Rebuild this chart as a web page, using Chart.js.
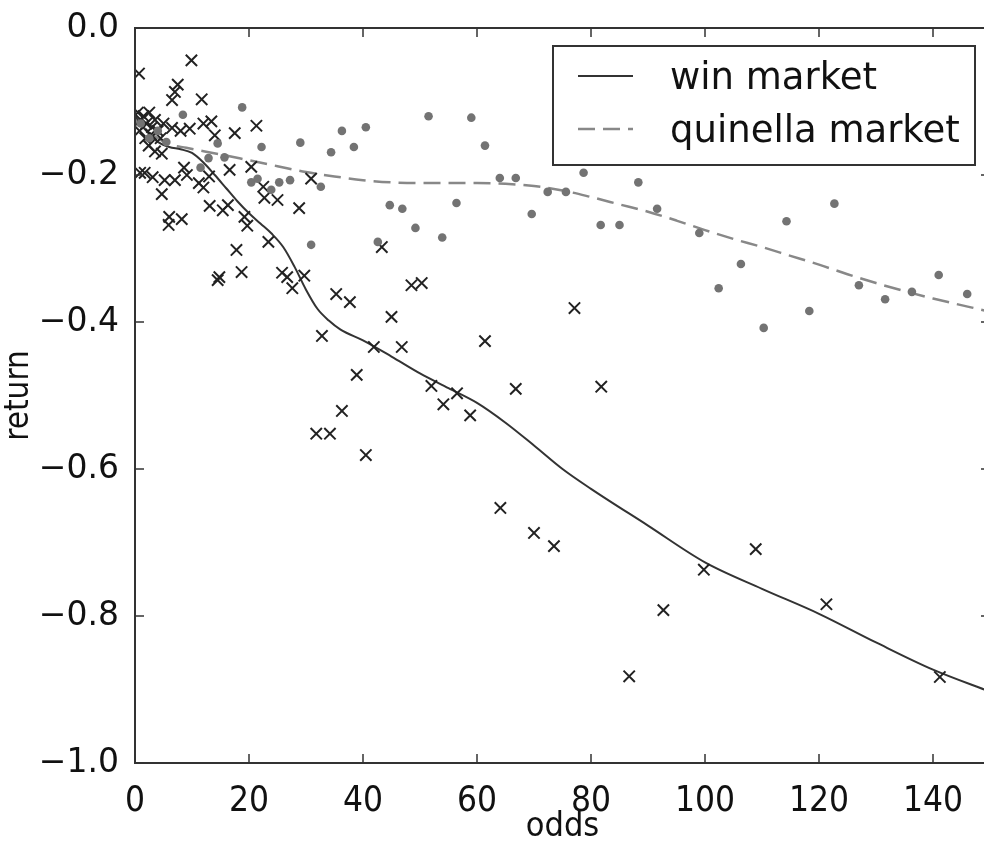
<!DOCTYPE html>
<html>
<head>
<meta charset="utf-8">
<script src="https://cdn.jsdelivr.net/npm/chart.js@4.4.1/dist/chart.umd.min.js"></script>
<style>
    html, body { margin: 0; padding: 0; background: #fff; overflow: hidden; }
    #wrap { width: 984px; height: 846px; overflow: hidden; }
</style>
</head>
<body>
<div id="wrap"><canvas id="chart" width="1000" height="846"></canvas></div>
<script>
// win market: individual observations (x markers)
const winOdds = [
    0.7, 9.9, 7.5, 7.0, 6.5, 11.7,
    0.5, 1.0, 1.5, 2.0, 2.5, 3.0, 3.5, 4.0, 0.8, 1.8, 2.8, 4.5, 5.0,
    6.5, 8.0, 9.6, 12.0, 13.4, 14.0, 17.5, 21.3,
    2.4, 3.5, 4.7, 1.7, 3.1, 5.2, 7.0, 8.6, 9.1, 11.2, 12.0, 13.0, 4.7, 16.6, 20.4, 22.5, 0.9,
    6.0, 5.9, 8.2, 13.1, 15.4, 16.3, 19.2, 19.7, 22.7, 25.0, 28.8, 30.9, 23.4, 17.8,
    18.7, 14.8, 14.5, 25.8, 26.7, 29.7, 27.6, 35.3, 37.7, 43.3, 48.5, 50.3, 45.0,
    32.8, 41.9, 46.8, 61.4, 38.9, 52.0, 56.5, 54.1, 58.8, 66.8, 36.3, 31.8, 34.2, 40.5,
    77.1, 81.8, 64.1, 70.0, 73.5, 86.7, 92.7, 99.8, 108.9, 121.3, 141.2
];
const winReturn = [
    -0.062, -0.044, -0.077, -0.087, -0.098, -0.097,
    -0.115, -0.125, -0.12, -0.13, -0.115, -0.135, -0.125, -0.14, -0.14, -0.15, -0.145, -0.15, -0.13,
    -0.136, -0.14, -0.137, -0.13, -0.127, -0.146, -0.143, -0.133,
    -0.16, -0.168, -0.171, -0.197, -0.203, -0.207, -0.207, -0.19, -0.2, -0.211, -0.217, -0.202, -0.226, -0.193, -0.189, -0.216, -0.197,
    -0.257, -0.268, -0.26, -0.242, -0.248, -0.241, -0.257, -0.269, -0.231, -0.234, -0.245, -0.205, -0.291, -0.302,
    -0.332, -0.339, -0.343, -0.333, -0.339, -0.337, -0.354, -0.362, -0.373, -0.298, -0.35, -0.347, -0.393,
    -0.419, -0.434, -0.434, -0.426, -0.472, -0.487, -0.497, -0.512, -0.527, -0.491, -0.521, -0.552, -0.552, -0.581,
    -0.381, -0.488, -0.653, -0.687, -0.705, -0.882, -0.792, -0.737, -0.709, -0.784, -0.883
];

// quinella market: individual observations (dots)
const quinOdds = [
    1.0, 2.5, 4.0, 5.5, 8.4, 18.8, 14.5, 12.9, 15.7, 11.5, 22.2, 29.0, 34.4, 36.3, 38.4, 40.5,
    20.4, 21.5, 25.3, 27.2, 23.9, 32.6, 30.9, 42.6, 44.7, 46.9, 49.2, 53.9, 56.4, 51.5, 59.0, 61.4,
    64.0, 66.8, 69.6, 72.4, 75.6, 78.7, 81.7, 85.0, 88.3, 91.6, 99.0, 102.4, 106.3, 110.3, 114.3,
    118.3, 122.7, 127.0, 131.6, 136.3, 141.0, 146.0
];
const quinReturn = [
    -0.13, -0.15, -0.14, -0.155, -0.118, -0.108, -0.157, -0.177, -0.176, -0.19, -0.162, -0.156, -0.169, -0.14, -0.162, -0.135,
    -0.21, -0.205, -0.21, -0.207, -0.22, -0.216, -0.295, -0.291, -0.241, -0.246, -0.272, -0.285, -0.238, -0.12, -0.122, -0.16,
    -0.204, -0.204, -0.253, -0.223, -0.223, -0.197, -0.268, -0.268, -0.21, -0.246, -0.279, -0.354, -0.321, -0.408, -0.263,
    -0.385, -0.239, -0.35, -0.369, -0.359, -0.336, -0.362
];

// smoothed curves
const winFitOdds = [0, 2, 4, 6, 8, 10, 12, 14, 16, 18, 20, 22, 24, 26, 28, 30, 32, 34, 36, 40, 45, 50, 55, 60, 65, 70, 75, 80, 90, 100, 110, 120, 130, 140, 150];
const winFitReturn = [-0.12, -0.14, -0.155, -0.162, -0.165, -0.17, -0.183, -0.2, -0.218, -0.236, -0.252, -0.266, -0.28, -0.298, -0.325, -0.356, -0.382, -0.398, -0.41, -0.425, -0.447, -0.47, -0.49, -0.51, -0.537, -0.568, -0.6, -0.627, -0.677, -0.727, -0.763, -0.797, -0.836, -0.873, -0.903];
const quinFitOdds = [0, 3, 6, 9, 15, 20, 25, 30, 35, 40, 45, 50, 55, 60, 65, 70, 75, 80, 85, 90, 95, 100, 105, 110, 115, 120, 125, 130, 135, 140, 150];
const quinFitReturn = [-0.125, -0.145, -0.158, -0.163, -0.172, -0.18, -0.188, -0.196, -0.202, -0.207, -0.21, -0.211, -0.211, -0.211, -0.212, -0.215, -0.221, -0.23, -0.24, -0.25, -0.262, -0.275, -0.287, -0.298, -0.31, -0.322, -0.335, -0.347, -0.358, -0.368, -0.386];

const xTickStep = 20;
const yTickStep = 0.2;
const legendLabels = ["win market", "quinella market"];

const toPoints = (xs, ys) => xs.map((x, i) => ({ x, y: ys[i] }));

// matplotlib-like frame with inward ticks on all sides
const framePlugin = {
    id: "frame",
    afterDatasetsDraw(chart) {
        const { ctx, chartArea: a, scales } = chart;
        const len = 9;
        ctx.save();
        ctx.strokeStyle = "#333";
        ctx.lineWidth = 2;
        ctx.strokeRect(a.left, a.top, a.right - a.left, a.bottom - a.top);
        ctx.lineWidth = 1.5;
        ctx.beginPath();
        for (const t of scales.x.ticks) {
            const px = scales.x.getPixelForValue(t.value);
            ctx.moveTo(px, a.bottom); ctx.lineTo(px, a.bottom - len);
            ctx.moveTo(px, a.top); ctx.lineTo(px, a.top + len);
        }
        for (const t of scales.y.ticks) {
            const py = scales.y.getPixelForValue(t.value);
            ctx.moveTo(a.left, py); ctx.lineTo(a.left + len, py);
            ctx.moveTo(a.right, py); ctx.lineTo(a.right - len, py);
        }
        ctx.stroke();
        ctx.restore();
    }
};

// boxed legend in the upper right of the plot
const boxLegendPlugin = {
    id: "boxLegend",
    afterDraw(chart) {
        const { ctx, chartArea: a } = chart;
        const left = a.left + 418, top = a.top + 18, w = 422, h = 119;
        ctx.save();
        ctx.fillStyle = "#fff";
        ctx.fillRect(left, top, w, h);
        ctx.strokeStyle = "#333";
        ctx.lineWidth = 2;
        ctx.strokeRect(left, top, w, h);

        const styles = chart.data.datasets.filter(d => d.showLine);
        const rows = [top + 30, top + 83];
        styles.forEach((d, i) => {
            ctx.strokeStyle = d.borderColor;
            ctx.lineWidth = d.borderWidth;
            ctx.setLineDash(d.borderDash || []);
            ctx.beginPath();
            ctx.moveTo(left + 25, rows[i]);
            ctx.lineTo(left + 80, rows[i]);
            ctx.stroke();
            ctx.setLineDash([]);
            ctx.fillStyle = "#111";
            ctx.font = "37px 'DejaVu Sans'";
            ctx.textBaseline = "alphabetic";
            ctx.fillText(legendLabels[i], left + 117, rows[i] + 13);
        });
        ctx.restore();
    }
};

new Chart(document.getElementById("chart"), {
    type: "scatter",
    data: {
        datasets: [
            {
                label: "quinella points",
                data: toPoints(quinOdds, quinReturn),
                pointStyle: "circle",
                pointRadius: 4.3,
                pointBackgroundColor: "#737373",
                pointBorderWidth: 0,
                borderColor: "#737373"
            },
            {
                label: "win points",
                data: toPoints(winOdds, winReturn),
                pointStyle: "crossRot",
                pointRadius: 8,
                pointBorderWidth: 2,
                pointBorderColor: "#222",
                borderColor: "#222"
            },
            {
                label: legendLabels[0],
                data: toPoints(winFitOdds, winFitReturn),
                showLine: true,
                pointRadius: 0,
                borderColor: "#333",
                borderWidth: 2,
                cubicInterpolationMode: "monotone"
            },
            {
                label: legendLabels[1],
                data: toPoints(quinFitOdds, quinFitReturn),
                showLine: true,
                pointRadius: 0,
                borderColor: "#888",
                borderWidth: 2.5,
                borderDash: [17, 8],
                cubicInterpolationMode: "monotone"
            }
        ]
    },
    options: {
        responsive: false,
        animation: false,
        devicePixelRatio: 1,
        layout: { padding: { left: 0, top: 28, right: 6, bottom: 0 } },
        plugins: {
            legend: { display: false },
            tooltip: { enabled: false }
        },
        scales: {
            x: {
                type: "linear",
                min: 0,
                max: 150,
                grid: { display: false },
                border: { display: false },
                ticks: {
                    stepSize: xTickStep,
                    includeBounds: false,
                    maxRotation: 0,
                    padding: 10,
                    color: "#111",
                    font: { family: "'DejaVu Sans Condensed', 'Liberation Sans Narrow', 'DejaVu Sans'", size: 35 }
                },
                title: {
                    display: true,
                    text: "odds",
                    color: "#111",
                    padding: { top: 0, bottom: 0 },
                    font: { family: "'DejaVu Sans Condensed', 'Liberation Sans Narrow', 'DejaVu Sans'", size: 34, lineHeight: 1.1 }
                },
                afterFit(scale) { scale.height = 83; }
            },
            y: {
                type: "linear",
                min: -1,
                max: 0,
                grid: { display: false },
                border: { display: false },
                ticks: {
                    stepSize: yTickStep,
                    padding: 8,
                    color: "#111",
                    font: { family: "'DejaVu Sans'", size: 33 },
                    callback: v => (v < -1e-9 ? "\u2212" : "") + Math.abs(v).toFixed(1)
                },
                title: {
                    display: true,
                    text: "return",
                    color: "#111",
                    padding: { top: 0, bottom: 0 },
                    font: { family: "'DejaVu Sans Condensed', 'Liberation Sans Narrow', 'DejaVu Sans'", size: 33 }
                },
                afterFit(scale) { scale.width = 135; }
            }
        }
    },
    plugins: [framePlugin, boxLegendPlugin]
});
</script>
</body>
</html>
